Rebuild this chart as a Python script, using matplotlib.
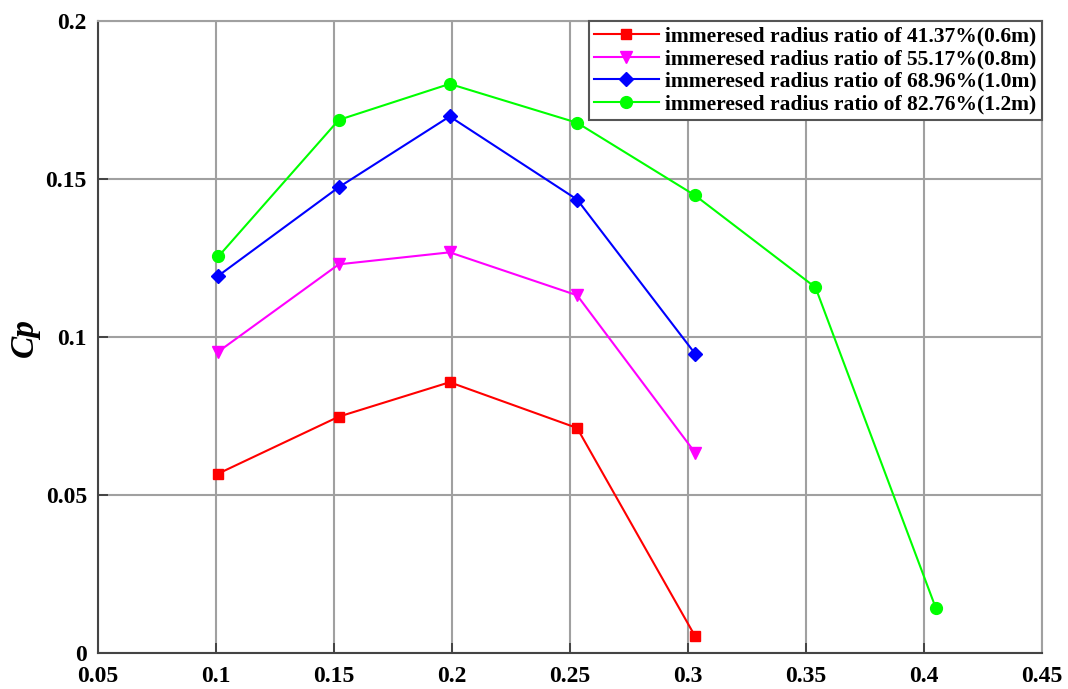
import matplotlib
matplotlib.use('Agg')
import matplotlib.pyplot as plt

# Данные
tsr = [0.101, 0.152, 0.199, 0.253, 0.303, 0.354, 0.405]

cp_06 = [0.0568, 0.0748, 0.0857, 0.0712, 0.0053]
cp_08 = [0.0954, 0.1230, 0.1268, 0.1132, 0.0634]
cp_10 = [0.1194, 0.1474, 0.1698, 0.1435, 0.0947]
cp_12 = [0.1255, 0.1687, 0.1801, 0.1678, 0.1448, 0.1157, 0.0142]

labels = ['immeresed radius ratio of 41.37%(0.6m)',
          'immeresed radius ratio of 55.17%(0.8m)',
          'immeresed radius ratio of 68.96%(1.0m)',
          'immeresed radius ratio of 82.76%(1.2m)']

xticks = [0.05, 0.1, 0.15, 0.2, 0.25, 0.3, 0.35, 0.4, 0.45]
yticks = [0, 0.05, 0.1, 0.15, 0.2]

plt.rcParams['font.family'] = ['Liberation Serif', 'DejaVu Serif']
plt.rcParams['font.weight'] = 'bold'

fig = plt.figure(figsize=(10.68, 6.89), dpi=100)
ax = fig.add_axes([0.0918, 0.0522, 0.8839, 0.9173])

series = [
    (cp_06, 'red', 's', 7.5),
    (cp_08, 'magenta', 'v', 9),
    (cp_10, 'blue', 'D', 7),
    (cp_12, 'lime', 'o', 8.5),
]
for (vals, col, mk, ms), lab in zip(series, labels):
    ax.plot(tsr[:len(vals)], vals, color=col, marker=mk, markersize=ms,
            linewidth=1.5, label=lab, zorder=3)

ax.set_xlim(0.05, 0.45)
ax.set_ylim(0, 0.2)
ax.set_xticks(xticks)
ax.set_yticks(yticks)
ax.set_xticklabels([('%g' % t) for t in xticks])
ax.set_yticklabels([('%g' % t) for t in yticks])
ax.tick_params(direction='in', length=7, width=1.2, labelsize=17, color='#333333')
ax.tick_params(axis='x', pad=9)
ax.tick_params(axis='y', pad=8)

ax.grid(True, color='#a0a0a0', linewidth=1.5)
for s in ['left', 'bottom']:
    ax.spines[s].set_color('#444444')
    ax.spines[s].set_linewidth(1.5)
for s in ['top', 'right']:
    ax.spines[s].set_color('#a0a0a0')
    ax.spines[s].set_linewidth(1.5)

ax.set_ylabel('Cp', fontsize=24, fontstyle='italic', fontweight='bold', labelpad=4)

leg = ax.legend(loc='upper right', borderaxespad=0,
                prop={'weight': 'bold', 'size': 15.5}, handlelength=3.0,
                labelspacing=0.12, borderpad=0.25, handletextpad=0.3,
                fancybox=False, framealpha=1)
leg.get_frame().set_edgecolor('#555555')
leg.get_frame().set_linewidth(1.5)

fig.savefig('out.png', dpi=100)
